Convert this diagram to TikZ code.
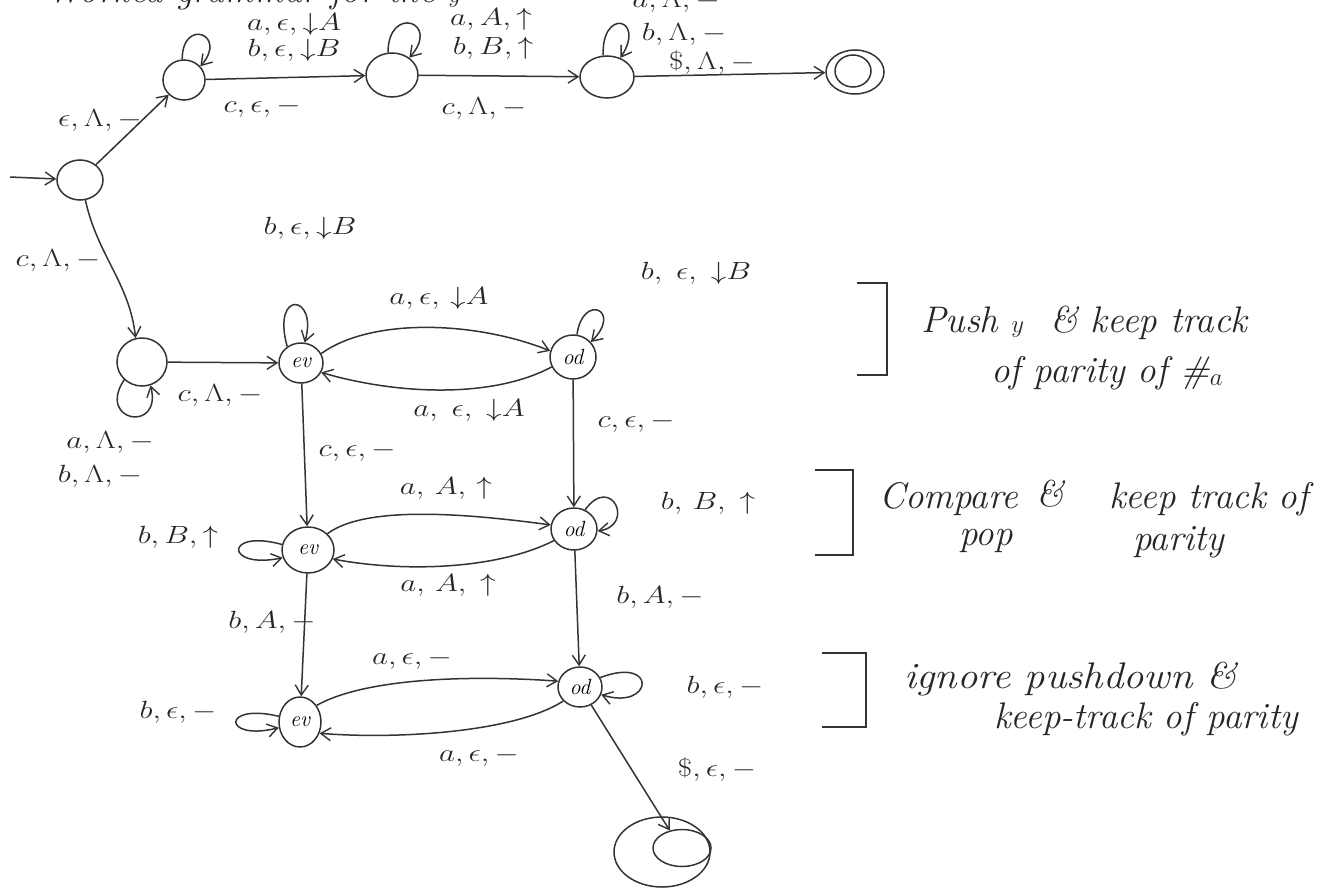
\documentclass[tikz,border=0pt]{standalone}
\usepackage{graphicx}
\usetikzlibrary{arrows.meta,shapes.geometric}
% hand-lettered labels run wide: stretch them sideways
\newcommand{\wm}[1]{\scalebox{1.25}[1]{$#1$}}
\begin{document}
\begin{tikzpicture}[x=1pt,y=-1pt,
  ink/.style={draw=black!80, line width=1.5pt},
  pstate/.style={ellipse, ink, minimum width=46pt, minimum height=42pt, inner sep=0pt,
    font=\fontsize{22}{24}\selectfont\itshape},
  trans/.style={ink, -{Straight Barb[length=10pt,width=13pt,line width=1.4pt]}},
  lbl/.style={font=\fontsize{33}{35}\selectfont, inner sep=1pt, text=black!85},
  note/.style={font=\fontsize{37}{40}\selectfont\itshape, inner sep=1pt, text=black!85}]
\useasboundingbox (0,0) rectangle (1337,888);
\begin{scope}
\clip (0,0) rectangle (1337,888);

% heading, cut by the page edge
\node[note, anchor=base west] (head) at (45,3) {Worked grammar for the $y$};

% ---------- upper branch ----------
\node[pstate, minimum width=46pt, minimum height=40pt] (s0) at (80,180) {};
\node[pstate, minimum width=42pt, minimum height=40pt] (s1) at (184,80) {};
\node[pstate, minimum width=52pt, minimum height=44pt] (s2) at (392,75) {};
\node[pstate, minimum width=54pt, minimum height=42pt] (s3) at (607,77) {};
\node[ellipse, ink, minimum width=58pt, minimum height=44pt] (s4) at (855,72) {};
\node[ellipse, ink, minimum width=36pt, minimum height=32pt] (s4in) at (853,71) {};

\coordinate (init) at (10,177);
\draw[trans] (init) -- (s0);
\draw[trans] (s0) -- (s1);
\draw[trans] (s1) -- (s2);
\draw[trans] (s2) -- (s3);
\draw[trans] (s3) -- (s4);

\draw[trans] (s1.95) .. controls +(0,-42) and +(28,-32) .. (s1.40);
\draw[trans] (s2.100) .. controls +(0,-48) and +(32,-36) .. (s2.45);
\draw[trans] (s3.100) .. controls +(-2,-48) and +(26,-40) .. (s3.55);

\node[lbl] (l01) at (100,120) {\wm{\epsilon,\Lambda,-}};
\node[lbl] (l12) at (262,108) {\wm{c,\epsilon,-}};
\node[lbl] (l23) at (484,108) {\wm{c,\Lambda,-}};
\node[lbl] (l34) at (712,63) {\wm{\$,\Lambda,-}};
\node[lbl] (l11a) at (294,24) {\wm{a,\epsilon,{\downarrow}A}};
\node[lbl] (l11b) at (294,50) {\wm{b,\epsilon,{\downarrow}B}};
\node[lbl] (l22a) at (491,19) {\wm{a,A,{\uparrow}}};
\node[lbl] (l22b) at (493,48) {\wm{b,B,{\uparrow}}};
\node[lbl] (l33a) at (676,1) {\wm{a,\Lambda,-}};
\node[lbl] (l33b) at (684,34) {\wm{b,\Lambda,-}};

% ---------- lower branch ----------
\node[pstate, minimum width=50pt, minimum height=48pt] (s5) at (142,362) {};
\node[pstate, minimum width=44pt, minimum height=40pt] (ev) at (301,363) {ev};
\node[pstate, minimum width=46pt, minimum height=44pt] (od) at (573,357) {od};
\node[pstate, minimum width=52pt, minimum height=46pt] (ev2) at (308,550) {ev};
\node[pstate, minimum width=46pt, minimum height=42pt] (od2) at (574,529) {od};
\node[pstate, minimum width=42pt, minimum height=50pt] (ev3) at (300,722) {ev};
\node[pstate, minimum width=44pt, minimum height=40pt] (od3) at (580,687) {od};
\node[ellipse, ink, minimum width=96pt, minimum height=70pt] (fin) at (662,852) {};
\node[ellipse, ink, minimum width=58pt, minimum height=37pt] (finin) at (682,848) {};

\draw[trans] (s0.285) .. controls +(12,55) and +(-6,-55) .. (s5.105);
\draw[trans] (s5) -- (ev);
\draw[trans] (ev) -- (ev2);
\draw[trans] (od) -- (od2);
\draw[trans] (ev2) -- (ev3);
\draw[trans] (od2) -- (od3);
\draw[trans] (od3) -- (finin.125);

\draw[trans] (ev.25) .. controls +(50,-36) and +(-75,-30) .. (od.165);
\draw[trans] (od.205) .. controls +(-60,32) and +(75,22) .. (ev.335);
\draw[trans] (ev2.40) .. controls +(40,-30) and +(-75,-10) .. (od2.170);
\draw[trans] (od2.210) .. controls +(-55,28) and +(75,14) .. (ev2.340);
\draw[trans] (ev3.45) .. controls +(50,-28) and +(-85,-6) .. (od3.165);
\draw[trans] (od3.220) .. controls +(-50,32) and +(75,6) .. (ev3.330);

\draw[trans] (s5.225) .. controls +(-28,42) and +(12,48) .. (s5.290);
\draw[trans] (ev.130) .. controls +(-16,-58) and +(14,-48) .. (ev.80);
\draw[trans] (od.80) .. controls +(6,-42) and +(32,-32) .. (od.40);
\draw[trans] (ev2.168) .. controls +(-58,-16) and +(-58,12) .. (ev2.197);
\draw[trans] (od2.60) .. controls +(26,-36) and +(38,-6) .. (od2.355);
\draw[trans] (ev3.165) .. controls +(-58,-14) and +(-56,14) .. (ev3.195);
\draw[trans] (od3.25) .. controls +(58,-22) and +(52,16) .. (od3.340);

\node[lbl] (l05) at (58,260) {\wm{c,\Lambda,-}};
\node[lbl] (l56) at (220,395) {\wm{c,\Lambda,-}};
\node[lbl] (l55a) at (110,442) {\wm{a,\Lambda,-}};
\node[lbl] (l55b) at (100,476) {\wm{b,\Lambda,-}};
\node[lbl] (lev) at (310,228) {\wm{b,\epsilon,{\downarrow}B}};
\node[lbl] (le1) at (439,298) {\wm{a,\epsilon,\,{\downarrow}A}};
\node[lbl] (lod) at (696,273) {\wm{b,\;\epsilon,\;{\downarrow}B}};
\node[lbl] (lo1) at (469,410) {\wm{a,\;\epsilon,\;{\downarrow}A}};
\node[lbl] (lv1) at (357,452) {\wm{c,\epsilon,-}};
\node[lbl] (lv2) at (636,423) {\wm{c,\epsilon,-}};
\node[lbl] (le2) at (446,488) {\wm{a,\,A,\,{\uparrow}}};
\node[lbl] (lev2) at (178,537) {\wm{b,B,{\uparrow}}};
\node[lbl] (lod2) at (708,503) {\wm{b,\,B,\;{\uparrow}}};
\node[lbl] (lo2) at (448,585) {\wm{a,\,A,\;{\uparrow}}};
\node[lbl] (lv3) at (272,622) {\wm{b,A,-}};
\node[lbl] (lv4) at (660,597) {\wm{b,A,-}};
\node[lbl] (le3) at (412,660) {\wm{a,\epsilon,-}};
\node[lbl] (lev3) at (178,712) {\wm{b,\epsilon,-}};
\node[lbl] (lod3) at (725,687) {\wm{b,\epsilon,-}};
\node[lbl] (lo3) at (479,757) {\wm{a,\epsilon,-}};
\node[lbl] (lfin) at (717,770) {\wm{\$,\epsilon,-}};

% ---------- side notes with their brackets ----------
\draw[ink] (857,283) -- (887,283) -- (887,375) -- (857,375);
\node[note, anchor=base west] (n1a) at (920,332) {Push $y$ \ \& keep track};
\node[note, anchor=base west] (n1b) at (990,382) {of parity of \#$_a$};

\draw[ink] (815,470) -- (853,470) -- (853,555) -- (815,555);
\node[note, anchor=base west] (n2a) at (878,508) {Compare};
\node[note, anchor=base west] (n2b) at (1035,506) {\&};
\node[note, anchor=base west] (n2c) at (1108,508) {keep track of};
\node[note, anchor=base west] (n2d) at (958,545) {pop};
\node[note, anchor=base west] (n2e) at (1132,550) {parity};

\draw[ink] (822,653) -- (866,653) -- (866,727) -- (822,727);
\node[note, anchor=base west] (n3a) at (903,688) {\scalebox{1.1}[1]{ignore pushdown \&}};
\node[note, anchor=base west] (n3b) at (993,728) {keep-track of parity};
\end{scope}
\end{tikzpicture}
\end{document}
